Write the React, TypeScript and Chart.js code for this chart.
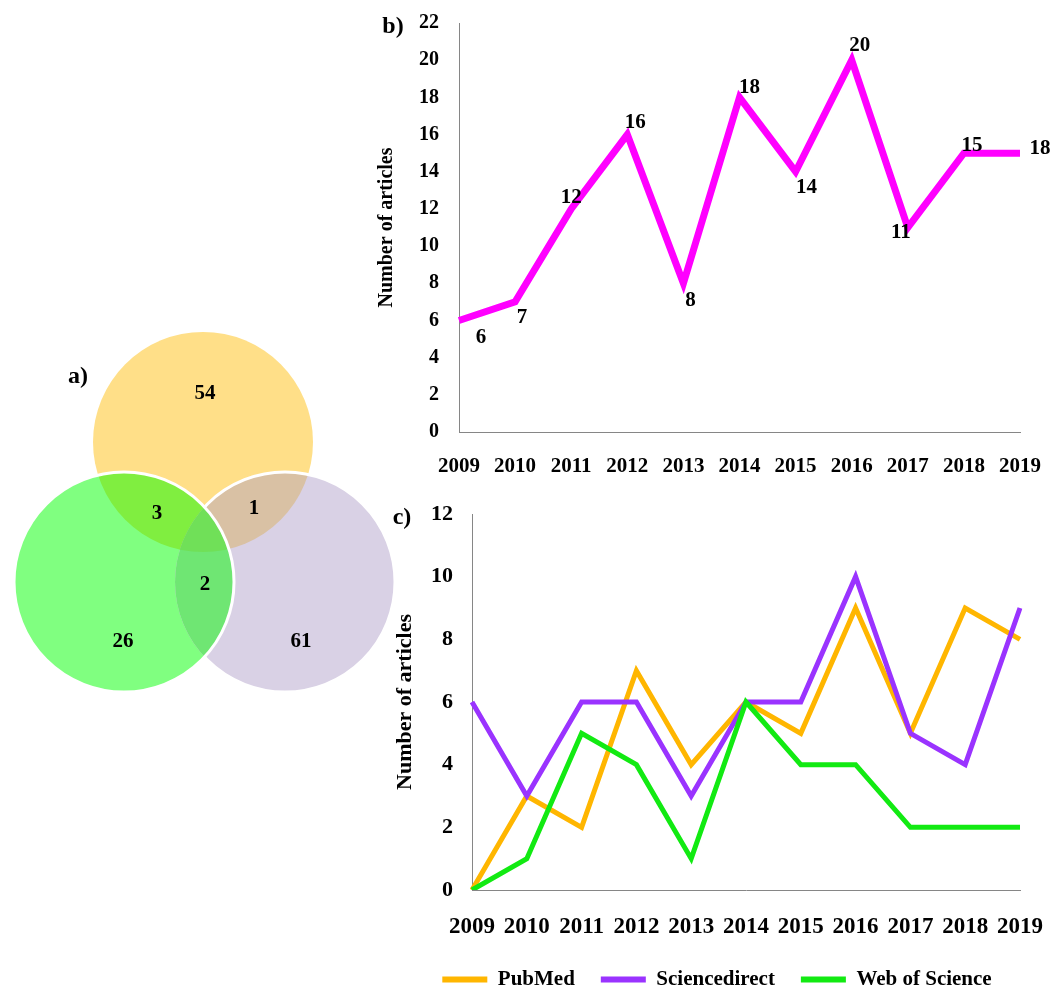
import React, { useEffect, useRef } from 'react';
import { Chart, registerables } from 'chart.js';

Chart.register(...registerables);

// ---------- data ----------
const years = ['2009', '2010', '2011', '2012', '2013', '2014', '2015', '2016', '2017', '2018', '2019'];
const totalArticles = [6, 7, 12, 16, 8, 18, 14, 20, 11, 15, 15];
const totalLabels = ['6', '7', '12', '16', '8', '18', '14', '20', '11', '15', '18'];

const pubmed = [0, 3, 2, 7, 4, 6, 5, 9, 5, 9, 8];
const sciencedirect = [6, 3, 6, 6, 3, 6, 6, 10, 5, 4, 9];
const webOfScience = [0, 1, 5, 4, 1, 6, 4, 4, 2, 2, 2];
const seriesNames = ['PubMed', 'Sciencedirect', 'Web of Science'];

const vennSets = ['PubMed', 'Web of Science', 'Sciencedirect'];
// region counts: PubMed only, WoS only, Sciencedirect only, PubMed∩WoS, PubMed∩Sciencedirect, WoS∩Sciencedirect
const vennCounts = [54, 26, 61, 3, 1, 2];

// ---------- style / layout ----------
const FONT = "'Liberation Serif', 'Times New Roman', serif";
const AXIS_GRAY = '#868686';
const labelOffsets = [
  [22, 17], [7, 16], [0, -11], [8, -12], [7, 17], [10, -10],
  [11, 16], [8, -15], [-7, 5], [8, -8], [20, -5],
];
const seriesColors = ['#FFB600', '#9A33FF', '#12EA12'];
// venn layout in chart units
const vennCircles = [
  { x: 203, y: 442, r: 110 }, // PubMed (yellow)
  { x: 124, y: 582, r: 110 }, // WoS (green)
  { x: 285, y: 582, r: 110 }, // Sciencedirect (purple)
];
const vennLabelPos = [
  { x: 205, y: 394 },
  { x: 123, y: 642 },
  { x: 301, y: 642 },
  { x: 157, y: 514 },
  { x: 254, y: 509 },
  { x: 205, y: 585 },
];

const vennPlugin = {
  id: 'venn',
  afterDatasetsDraw(chart: any) {
    const { ctx } = chart;
    const sx = chart.scales.x;
    const sy = chart.scales.y;
    const C = vennCircles.map((c) => ({
      x: sx.getPixelForValue(c.x),
      y: sy.getPixelForValue(c.y),
      r: sx.getPixelForValue(c.x + c.r) - sx.getPixelForValue(c.x),
    }));
    const [Y, G, P] = C;
    const path = (c: any) => {
      ctx.beginPath();
      ctx.arc(c.x, c.y, c.r, 0, Math.PI * 2);
    };
    const fill = (c: any, col: string) => {
      path(c);
      ctx.fillStyle = col;
      ctx.fill();
    };
    ctx.save();
    fill(Y, '#FFDF88');
    fill(G, '#80FF80');
    fill(P, '#D9D1E5');
    ctx.save(); path(Y); ctx.clip(); fill(G, '#80EE40'); ctx.restore();
    ctx.save(); path(Y); ctx.clip(); fill(P, '#D9C1A4'); ctx.restore();
    ctx.save(); path(G); ctx.clip(); fill(P, '#6FE673'); ctx.restore();
    ctx.save(); path(Y); ctx.clip(); path(G); ctx.clip(); fill(P, '#70E058'); ctx.restore();
    // purple outline outside green
    ctx.save();
    ctx.beginPath();
    ctx.rect(0, 0, chart.width, chart.height);
    ctx.arc(G.x, G.y, G.r, 0, Math.PI * 2);
    ctx.clip('evenodd');
    path(P);
    ctx.strokeStyle = '#FFFFFF';
    ctx.lineWidth = 3;
    ctx.stroke();
    ctx.restore();
    path(G);
    ctx.strokeStyle = '#FFFFFF';
    ctx.lineWidth = 3;
    ctx.stroke();
    // labels
    ctx.fillStyle = '#000';
    ctx.font = `bold 21px ${FONT}`;
    ctx.textAlign = 'center';
    ctx.textBaseline = 'middle';
    vennCounts.forEach((v, i) => {
      const p = vennLabelPos[i];
      ctx.fillText(String(v), sx.getPixelForValue(p.x), sy.getPixelForValue(p.y));
    });
    ctx.font = `bold 24px ${FONT}`;
    ctx.fillText('a)', sx.getPixelForValue(78), sy.getPixelForValue(377));
    ctx.restore();
  },
};

const pointLabelPlugin = {
  id: 'pointLabels',
  afterDatasetsDraw(chart: any) {
    const { ctx } = chart;
    const meta = chart.getDatasetMeta(0);
    ctx.save();
    ctx.fillStyle = '#000';
    ctx.font = `bold 21px ${FONT}`;
    ctx.textAlign = 'center';
    ctx.textBaseline = 'middle';
    meta.data.forEach((pt: any, i: number) => {
      const [dx, dy] = labelOffsets[i];
      ctx.fillText(totalLabels[i], pt.x + dx, pt.y + dy);
    });
    ctx.restore();
  },
};

const panelLabel = (text: string, x: number, y: number) => ({
  id: 'panel_' + text.replace(')', ''),
  afterDraw(chart: any) {
    const { ctx } = chart;
    ctx.save();
    ctx.fillStyle = '#000';
    ctx.font = `bold 24px ${FONT}`;
    ctx.textAlign = 'center';
    ctx.textBaseline = 'middle';
    ctx.fillText(text, x, y);
    ctx.restore();
  },
});

const legendShift = {
  id: 'legendShift',
  afterLayout(chart: any) {
    if (chart.legend) {
      chart.legend.left += 22;
      chart.legend.right += 22;
    }
  },
};

const tickFont = (size: number) => ({ family: FONT, size, weight: 'bold' as const });

export default function App() {
  const vennRef = useRef<HTMLCanvasElement>(null);
  const bRef = useRef<HTMLCanvasElement>(null);
  const cRef = useRef<HTMLCanvasElement>(null);

  useEffect(() => {
    const venn = new Chart(vennRef.current!, {
      type: 'scatter',
      data: { datasets: [{ label: vennSets.join(' / '), data: [], pointRadius: 0 }] },
      options: {
        animation: false,
        responsive: false,
        layout: { padding: 0 },
        plugins: { legend: { display: false }, tooltip: { enabled: false } },
        scales: {
          x: { type: 'linear', min: 0, max: 410, display: false },
          y: { type: 'linear', min: 330, max: 710, reverse: true, display: false },
        },
      },
      plugins: [vennPlugin],
    });

    const b = new Chart(bRef.current!, {
      type: 'line',
      data: {
        labels: years,
        datasets: [
          {
            label: 'Number of articles',
            data: totalArticles,
            borderColor: '#FF00FF',
            backgroundColor: '#FF00FF',
            borderWidth: 7,
            pointRadius: 0,
            tension: 0,
            fill: false,
          },
        ],
      },
      options: {
        animation: false,
        responsive: false,
        layout: { padding: { top: 23, right: 36, left: 0, bottom: 0 } },
        plugins: { legend: { display: false }, tooltip: { enabled: false } },
        scales: {
          x: {
            type: 'category',
            offset: false,
            grid: { display: false, drawTicks: false },
            border: { display: true, color: AXIS_GRAY, width: 1 },
            ticks: { color: '#000', font: tickFont(21), padding: 22, maxRotation: 0, autoSkip: false },
            afterFit: (s: any) => {
              s.height = 58;
              s.paddingLeft = 0;
              s.paddingRight = 0;
            },
          },
          y: {
            min: 0,
            max: 22,
            grid: { display: false, drawTicks: false },
            border: { display: true, color: AXIS_GRAY, width: 1 },
            ticks: { stepSize: 2, color: '#000', font: tickFont(20), padding: 20 },
            title: {
              display: true,
              text: 'Number of articles',
              color: '#000',
              font: tickFont(20),
              padding: { top: 5, bottom: 0 },
            },
            afterFit: (s: any) => {
              s.width = 89;
              s.paddingTop = 0;
              s.paddingBottom = 0;
            },
          },
        },
      },
      plugins: [pointLabelPlugin, panelLabel('b)', 23, 27)],
    });

    const seriesData = [pubmed, sciencedirect, webOfScience];
    const c = new Chart(cRef.current!, {
      type: 'line',
      data: {
        labels: years,
        datasets: seriesNames.map((name, i) => ({
          label: name,
          data: seriesData[i],
          borderColor: seriesColors[i],
          backgroundColor: seriesColors[i],
          borderWidth: 5,
          pointRadius: 0,
          tension: 0,
          fill: false,
          order: 3 - i,
        })),
      },
      options: {
        animation: false,
        responsive: false,
        layout: { padding: { top: 24, right: 36, left: 0, bottom: 0 } },
        plugins: {
          tooltip: { enabled: false },
          legend: {
            display: true,
            position: 'bottom',
            labels: {
              boxWidth: 45,
              boxHeight: 6,
              padding: 26,
              color: '#000',
              font: tickFont(21),
              generateLabels: (chart: any) =>
                chart.data.datasets.map((ds: any, i: number) => ({
                  text: ds.label,
                  fillStyle: ds.borderColor,
                  strokeStyle: ds.borderColor,
                  lineWidth: 0,
                  hidden: false,
                  datasetIndex: i,
                  fontColor: '#000',
                })),
            },
          },
        },
        scales: {
          x: {
            type: 'category',
            offset: false,
            grid: { display: false, drawTicks: false },
            border: { display: true, color: AXIS_GRAY, width: 1 },
            ticks: { color: '#000', font: tickFont(23), padding: 23, maxRotation: 0, autoSkip: false },
            afterFit: (s: any) => {
              s.height = 53;
              s.paddingLeft = 0;
              s.paddingRight = 0;
            },
          },
          y: {
            min: 0,
            max: 12,
            grid: { display: false, drawTicks: false },
            border: { display: true, color: AXIS_GRAY, width: 1 },
            ticks: { stepSize: 2, color: '#000', font: tickFont(22), padding: 19 },
            title: {
              display: true,
              text: 'Number of articles',
              color: '#000',
              font: tickFont(22),
              padding: { top: 22, bottom: 0 },
            },
            afterFit: (s: any) => {
              s.width = 102;
              s.paddingTop = 0;
              s.paddingBottom = 0;
            },
          },
        },
      },
      plugins: [panelLabel('c)', 32, 28), legendShift],
    });

    return () => {
      venn.destroy();
      b.destroy();
      c.destroy();
    };
  }, []);

  return (
    <div
      style={{
        position: 'fixed',
        left: 0,
        top: 0,
        width: 1056,
        height: 989,
        overflow: 'hidden',
        background: '#FFFFFF',
      }}
    >
      <canvas ref={vennRef} width={410} height={380} style={{ position: 'absolute', left: 0, top: 330 }} />
      <canvas ref={bRef} width={686} height={490} style={{ position: 'absolute', left: 370, top: 0 }} />
      <canvas ref={cRef} width={686} height={510} style={{ position: 'absolute', left: 370, top: 490 }} />
    </div>
  );
}
